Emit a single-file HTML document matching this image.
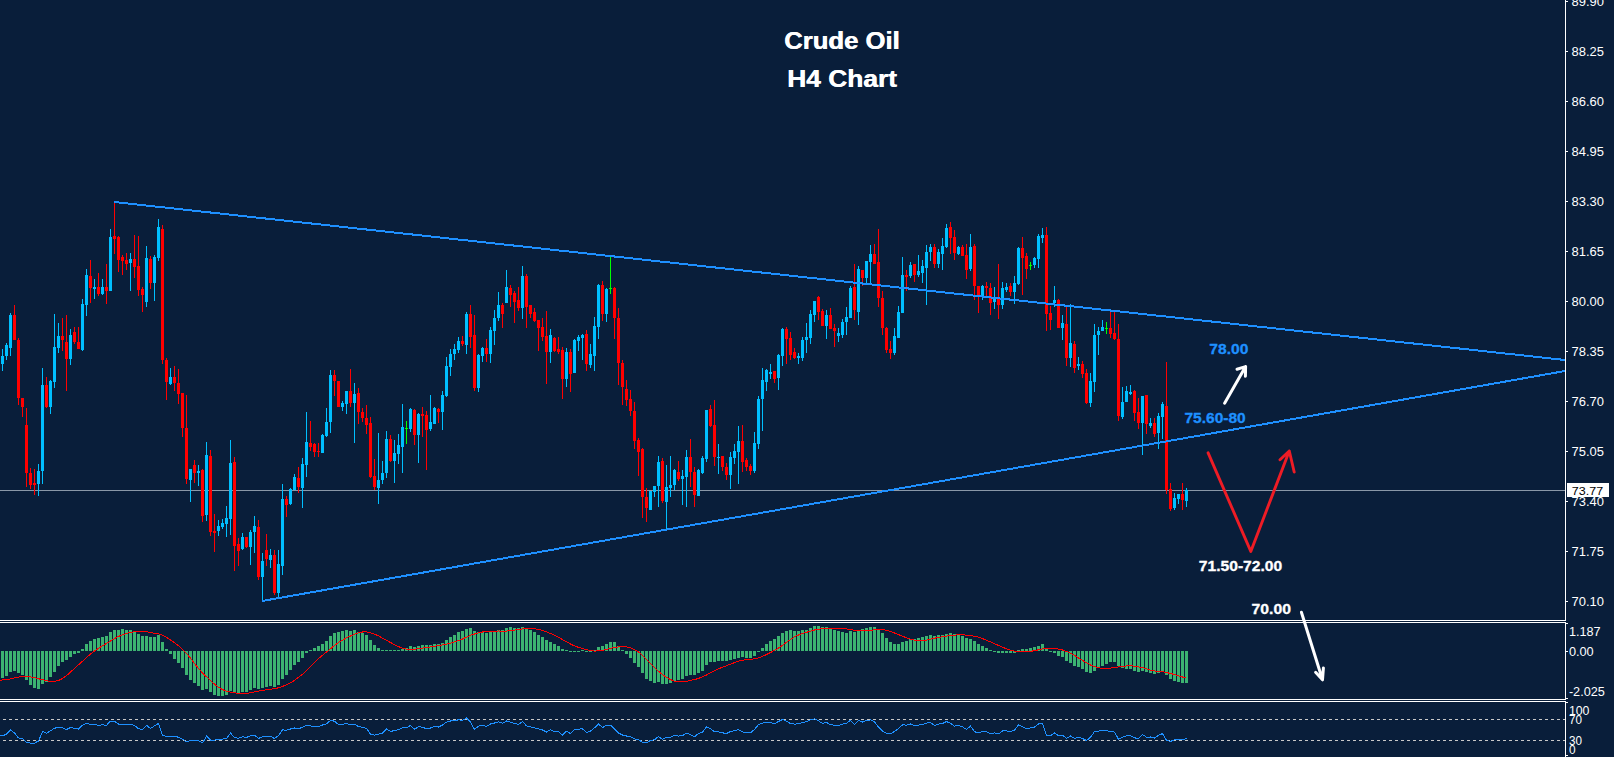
<!DOCTYPE html>
<html><head><meta charset="utf-8"><title>Crude Oil H4 Chart</title>
<style>html,body{margin:0;padding:0;background:#091e3a;}body{width:1614px;height:757px;overflow:hidden;position:relative;font-family:"Liberation Sans",sans-serif;}</style>
</head><body>
<svg width="1614" height="757" viewBox="0 0 1614 757" style="position:absolute;left:0;top:0">
<rect width="1614" height="757" fill="#091e3a"/>
<rect x="0" y="490" width="1565" height="1" fill="#8a98a8" shape-rendering="crispEdges"/>
<path d="M14 305h1v35h-1z M13 315h3v25h-3z M18 338h1v67h-1z M17 340h3v58h-3z M22 398h1v19h-1z M21 398h3v9h-3z M26 408h1v79h-1z M25 425h3v48h-3z M30 468h1v21h-1z M29 473h3v12h-3z M34 469h1v26h-1z M33 483h3v2h-3z M46 377h1v31h-1z M45 385h3v22h-3z M62 318h1v33h-1z M61 336h3v4h-3z M66 315h1v76h-1z M65 342h3v17h-3z M74 327h1v17h-1z M73 332h3v10h-3z M78 327h1v22h-1z M77 342h3v7h-3z M90 260h1v43h-1z M89 276h3v12h-3z M98 273h1v23h-1z M97 287h3v7h-3z M106 264h1v40h-1z M105 287h3v4h-3z M114 202h1v52h-1z M113 236h3v3h-3z M118 236h1v36h-1z M117 237h3v23h-3z M122 255h1v20h-1z M121 257h3v4h-3z M126 253h1v17h-1z M125 260h3v4h-3z M134 235h1v43h-1z M133 259h3v8h-3z M138 236h1v60h-1z M137 266h3v24h-3z M142 287h1v25h-1z M141 289h3v6h-3z M150 256h1v33h-1z M149 259h3v24h-3z M162 225h1v139h-1z M161 229h3v131h-3z M166 358h1v42h-1z M165 360h3v22h-3z M174 366h1v25h-1z M173 377h3v6h-3z M178 369h1v35h-1z M177 383h3v11h-3z M182 393h1v44h-1z M181 393h3v35h-3z M186 395h1v89h-1z M185 428h3v51h-3z M194 460h1v23h-1z M193 465h3v8h-3z M202 469h1v53h-1z M201 470h3v46h-3z M210 450h1v86h-1z M209 456h3v76h-3z M214 514h1v38h-1z M213 531h3v2h-3z M234 457h1v114h-1z M233 462h3v84h-3z M238 538h1v28h-1z M237 544h3v7h-3z M246 537h1v11h-1z M245 537h3v10h-3z M258 520h1v60h-1z M257 527h3v50h-3z M266 534h1v32h-1z M265 550h3v9h-3z M274 550h1v45h-1z M273 555h3v38h-3z M286 496h1v21h-1z M285 499h3v6h-3z M298 467h1v26h-1z M297 478h3v9h-3z M310 421h1v30h-1z M309 443h3v4h-3z M314 443h1v14h-1z M313 444h3v8h-3z M318 443h1v14h-1z M317 451h3v1h-3z M334 370h1v26h-1z M333 375h3v6h-3z M338 381h1v26h-1z M337 381h3v26h-3z M350 369h1v38h-1z M349 391h3v12h-3z M358 388h1v36h-1z M357 393h3v19h-3z M362 408h1v14h-1z M361 412h3v6h-3z M366 405h1v29h-1z M365 418h3v7h-3z M370 417h1v61h-1z M369 423h3v54h-3z M374 459h1v31h-1z M373 476h3v11h-3z M390 435h1v27h-1z M389 439h3v22h-3z M414 409h1v36h-1z M413 410h3v25h-3z M422 407h1v30h-1z M421 414h3v2h-3z M426 411h1v59h-1z M425 415h3v15h-3z M438 408h1v15h-1z M437 409h3v3h-3z M462 336h1v10h-1z M461 341h3v3h-3z M470 305h1v43h-1z M469 314h3v23h-3z M474 315h1v76h-1z M473 335h3v53h-3z M486 339h1v23h-1z M485 348h3v6h-3z M502 303h1v25h-1z M501 305h3v9h-3z M510 285h1v22h-1z M509 288h3v7h-3z M514 291h1v32h-1z M513 293h3v9h-3z M518 287h1v24h-1z M517 300h3v8h-3z M526 274h1v54h-1z M525 276h3v31h-3z M530 305h1v13h-1z M529 305h3v9h-3z M534 308h1v14h-1z M533 312h3v9h-3z M538 320h1v31h-1z M537 320h3v8h-3z M542 318h1v23h-1z M541 327h3v10h-3z M546 311h1v73h-1z M545 336h3v16h-3z M554 337h1v15h-1z M553 338h3v13h-3z M558 337h1v17h-1z M557 349h3v3h-3z M562 347h1v52h-1z M561 350h3v29h-3z M570 349h1v43h-1z M569 352h3v22h-3z M586 330h1v41h-1z M585 334h3v30h-3z M602 281h1v40h-1z M601 285h3v29h-3z M614 287h1v52h-1z M613 288h3v30h-3z M618 308h1v77h-1z M617 318h3v45h-3z M622 360h1v45h-1z M621 363h3v24h-3z M626 380h1v26h-1z M625 389h3v11h-3z M630 390h1v26h-1z M629 399h3v12h-3z M634 402h1v47h-1z M633 411h3v30h-3z M638 438h1v38h-1z M637 440h3v12h-3z M642 448h1v70h-1z M641 449h3v48h-3z M646 488h1v34h-1z M645 497h3v11h-3z M662 458h1v45h-1z M661 461h3v40h-3z M678 461h1v20h-1z M677 472h3v7h-3z M690 439h1v48h-1z M689 457h3v15h-3z M694 467h1v40h-1z M693 472h3v23h-3z M710 405h1v22h-1z M709 409h3v17h-3z M714 400h1v66h-1z M713 425h3v32h-3z M722 456h1v15h-1z M721 456h3v11h-3z M726 463h1v17h-1z M725 467h3v8h-3z M742 425h1v47h-1z M741 441h3v21h-3z M746 458h1v13h-1z M745 460h3v7h-3z M750 464h1v11h-1z M749 466h3v5h-3z M774 371h1v12h-1z M773 371h3v8h-3z M786 327h1v37h-1z M785 329h3v10h-3z M790 332h1v28h-1z M789 338h3v17h-3z M794 348h1v11h-1z M793 352h3v6h-3z M818 296h1v24h-1z M817 297h3v15h-3z M822 309h1v17h-1z M821 311h3v15h-3z M830 308h1v21h-1z M829 315h3v14h-3z M834 324h1v23h-1z M833 328h3v3h-3z M854 264h1v56h-1z M853 287h3v23h-3z M862 270h1v16h-1z M861 270h3v8h-3z M874 244h1v20h-1z M873 254h3v10h-3z M878 229h1v78h-1z M877 262h3v36h-3z M882 291h1v44h-1z M881 298h3v30h-3z M886 327h1v26h-1z M885 328h3v22h-3z M890 341h1v18h-1z M889 349h3v4h-3z M906 270h1v21h-1z M905 275h3v2h-3z M914 264h1v18h-1z M913 264h3v11h-3z M934 244h1v24h-1z M933 247h3v17h-3z M950 222h1v32h-1z M949 227h3v11h-3z M954 230h1v30h-1z M953 237h3v16h-3z M962 245h1v11h-1z M961 247h3v9h-3z M966 244h1v35h-1z M965 255h3v15h-3z M974 244h1v56h-1z M973 246h3v40h-3z M978 286h1v27h-1z M977 286h3v10h-3z M986 282h1v14h-1z M985 286h3v2h-3z M990 283h1v32h-1z M989 288h3v15h-3z M998 264h1v55h-1z M997 299h3v6h-3z M1010 283h1v13h-1z M1009 286h3v6h-3z M1022 237h1v58h-1z M1021 248h3v10h-3z M1026 253h1v26h-1z M1025 256h3v13h-3z M1046 227h1v104h-1z M1045 235h3v79h-3z M1050 306h1v24h-1z M1049 313h3v7h-3z M1058 299h1v29h-1z M1057 300h3v28h-3z M1066 307h1v59h-1z M1065 324h3v34h-3z M1074 341h1v32h-1z M1073 344h3v24h-3z M1082 361h1v17h-1z M1081 364h3v10h-3z M1086 369h1v35h-1z M1085 373h3v30h-3z M1110 312h1v26h-1z M1109 328h3v6h-3z M1114 312h1v28h-1z M1113 333h3v6h-3z M1118 324h1v97h-1z M1117 339h3v77h-3z M1134 390h1v31h-1z M1133 391h3v22h-3z M1138 398h1v31h-1z M1137 412h3v11h-3z M1146 395h1v39h-1z M1145 395h3v29h-3z M1154 418h1v19h-1z M1153 423h3v11h-3z M1166 362h1v132h-1z M1165 406h3v84h-3z M1170 483h1v28h-1z M1169 489h3v20h-3z M1182 483h1v27h-1z M1181 494h3v6h-3z" fill="#ff0000" shape-rendering="crispEdges"/>
<path d="M2 349h1v22h-1z M1 356h3v8h-3z M6 343h1v17h-1z M5 345h3v11h-3z M10 313h1v43h-1z M9 315h3v33h-3z M38 464h1v32h-1z M37 471h3v13h-3z M42 368h1v116h-1z M41 385h3v86h-3z M50 380h1v34h-1z M49 381h3v26h-3z M54 314h1v74h-1z M53 347h3v35h-3z M58 323h1v30h-1z M57 336h3v12h-3z M70 329h1v36h-1z M69 335h3v24h-3z M82 299h1v52h-1z M81 304h3v46h-3z M86 269h1v47h-1z M85 275h3v30h-3z M94 279h1v20h-1z M93 287h3v2h-3z M102 279h1v16h-1z M101 287h3v7h-3z M110 229h1v62h-1z M109 237h3v54h-3z M130 253h1v38h-1z M129 259h3v4h-3z M146 246h1v61h-1z M145 258h3v44h-3z M154 255h1v46h-1z M153 257h3v26h-3z M158 219h1v42h-1z M157 227h3v31h-3z M170 368h1v17h-1z M169 377h3v7h-3z M190 469h1v33h-1z M189 469h3v11h-3z M198 465h1v21h-1z M197 471h3v2h-3z M206 442h1v79h-1z M205 455h3v60h-3z M218 520h1v16h-1z M217 526h3v5h-3z M222 519h1v10h-1z M221 523h3v4h-3z M226 506h1v31h-1z M225 518h3v6h-3z M230 440h1v95h-1z M229 463h3v56h-3z M242 533h1v17h-1z M241 537h3v12h-3z M250 530h1v35h-1z M249 532h3v15h-3z M254 516h1v37h-1z M253 526h3v6h-3z M262 553h1v48h-1z M261 561h3v16h-3z M270 549h1v19h-1z M269 555h3v5h-3z M278 550h1v48h-1z M277 564h3v29h-3z M282 484h1v91h-1z M281 499h3v67h-3z M290 488h1v17h-1z M289 489h3v15h-3z M294 474h1v16h-1z M293 477h3v13h-3z M302 458h1v50h-1z M301 464h3v24h-3z M306 412h1v65h-1z M305 442h3v23h-3z M322 434h1v19h-1z M321 435h3v18h-3z M326 408h1v29h-1z M325 422h3v14h-3z M330 370h1v63h-1z M329 375h3v47h-3z M342 401h1v10h-1z M341 403h3v4h-3z M346 391h1v23h-1z M345 391h3v13h-3z M354 383h1v60h-1z M353 394h3v9h-3z M378 433h1v71h-1z M377 480h3v8h-3z M382 461h1v23h-1z M381 473h3v7h-3z M386 431h1v47h-1z M385 439h3v34h-3z M394 440h1v43h-1z M393 453h3v8h-3z M398 434h1v30h-1z M397 445h3v9h-3z M402 404h1v69h-1z M401 427h3v20h-3z M410 408h1v24h-1z M409 409h3v20h-3z M418 413h1v50h-1z M417 414h3v21h-3z M430 395h1v36h-1z M429 422h3v7h-3z M434 407h1v17h-1z M433 408h3v16h-3z M442 391h1v39h-1z M441 395h3v17h-3z M446 357h1v40h-1z M445 366h3v30h-3z M450 349h1v27h-1z M449 354h3v13h-3z M454 344h1v16h-1z M453 349h3v5h-3z M458 337h1v16h-1z M457 341h3v9h-3z M466 312h1v42h-1z M465 314h3v31h-3z M478 354h1v38h-1z M477 355h3v33h-3z M482 347h1v15h-1z M481 348h3v8h-3z M490 327h1v36h-1z M489 330h3v24h-3z M494 310h1v35h-1z M493 318h3v13h-3z M498 292h1v29h-1z M497 305h3v13h-3z M506 270h1v33h-1z M505 287h3v16h-3z M522 266h1v53h-1z M521 276h3v32h-3z M550 329h1v34h-1z M549 335h3v17h-3z M566 348h1v39h-1z M565 352h3v27h-3z M574 339h1v34h-1z M573 340h3v33h-3z M578 335h1v16h-1z M577 337h3v4h-3z M582 334h1v26h-1z M581 335h3v3h-3z M590 344h1v24h-1z M589 354h3v11h-3z M594 317h1v54h-1z M593 326h3v30h-3z M598 284h1v55h-1z M597 285h3v42h-3z M606 288h1v34h-1z M605 289h3v25h-3z M650 491h1v19h-1z M649 491h3v19h-3z M654 486h1v11h-1z M653 486h3v6h-3z M658 456h1v51h-1z M657 462h3v24h-3z M666 465h1v65h-1z M665 487h3v15h-3z M670 456h1v41h-1z M669 485h3v3h-3z M674 469h1v21h-1z M673 470h3v15h-3z M682 470h1v35h-1z M681 476h3v3h-3z M686 450h1v57h-1z M685 457h3v20h-3z M698 469h1v27h-1z M697 470h3v26h-3z M702 456h1v18h-1z M701 458h3v15h-3z M706 410h1v52h-1z M705 410h3v49h-3z M718 444h1v30h-1z M717 457h3v1h-3z M730 452h1v37h-1z M729 457h3v18h-3z M734 444h1v20h-1z M733 451h3v7h-3z M738 426h1v58h-1z M737 441h3v11h-3z M754 432h1v41h-1z M753 443h3v28h-3z M758 396h1v53h-1z M757 399h3v45h-3z M762 368h1v63h-1z M761 380h3v19h-3z M766 369h1v22h-1z M765 370h3v12h-3z M770 364h1v15h-1z M769 372h3v2h-3z M778 354h1v36h-1z M777 355h3v23h-3z M782 328h1v38h-1z M781 329h3v27h-3z M798 353h1v11h-1z M797 356h3v2h-3z M802 337h1v24h-1z M801 340h3v18h-3z M806 323h1v30h-1z M805 337h3v3h-3z M810 310h1v34h-1z M809 314h3v24h-3z M814 301h1v21h-1z M813 301h3v14h-3z M826 310h1v29h-1z M825 315h3v11h-3z M838 328h1v14h-1z M837 333h3v3h-3z M842 319h1v19h-1z M841 322h3v13h-3z M846 307h1v28h-1z M845 317h3v5h-3z M850 286h1v32h-1z M849 288h3v30h-3z M858 266h1v59h-1z M857 269h3v43h-3z M866 261h1v22h-1z M865 261h3v17h-3z M870 245h1v38h-1z M869 254h3v8h-3z M894 328h1v27h-1z M893 336h3v17h-3z M898 306h1v32h-1z M897 312h3v26h-3z M902 257h1v56h-1z M901 275h3v38h-3z M910 262h1v16h-1z M909 265h3v11h-3z M918 255h1v22h-1z M917 271h3v4h-3z M922 260h1v23h-1z M921 266h3v7h-3z M926 245h1v60h-1z M925 252h3v16h-3z M930 244h1v17h-1z M929 247h3v5h-3z M938 249h1v19h-1z M937 252h3v12h-3z M942 238h1v32h-1z M941 246h3v8h-3z M946 224h1v24h-1z M945 228h3v19h-3z M958 246h1v9h-1z M957 247h3v7h-3z M970 234h1v37h-1z M969 247h3v22h-3z M982 285h1v15h-1z M981 286h3v10h-3z M994 287h1v22h-1z M993 298h3v4h-3z M1002 282h1v27h-1z M1001 288h3v17h-3z M1006 283h1v9h-1z M1005 287h3v3h-3z M1014 276h1v28h-1z M1013 283h3v9h-3z M1018 247h1v38h-1z M1017 248h3v36h-3z M1034 257h1v11h-1z M1033 258h3v7h-3z M1038 234h1v34h-1z M1037 236h3v23h-3z M1042 228h1v15h-1z M1041 235h3v3h-3z M1054 286h1v21h-1z M1053 300h3v3h-3z M1062 315h1v25h-1z M1061 323h3v5h-3z M1070 304h1v63h-1z M1069 343h3v15h-3z M1078 357h1v13h-1z M1077 364h3v2h-3z M1090 373h1v34h-1z M1089 381h3v22h-3z M1094 324h1v68h-1z M1093 335h3v47h-3z M1098 327h1v28h-1z M1097 331h3v4h-3z M1102 320h1v11h-1z M1101 327h3v4h-3z M1122 387h1v32h-1z M1121 402h3v15h-3z M1126 386h1v16h-1z M1125 391h3v11h-3z M1130 385h1v10h-1z M1129 392h3v2h-3z M1142 396h1v59h-1z M1141 396h3v27h-3z M1150 418h1v10h-1z M1149 423h3v3h-3z M1158 413h1v36h-1z M1157 416h3v17h-3z M1162 402h1v37h-1z M1161 404h3v13h-3z M1174 493h1v17h-1z M1173 498h3v10h-3z M1178 494h1v10h-1z M1177 494h3v5h-3z M1186 488h1v19h-1z M1185 490h3v11h-3z" fill="#00bfff" shape-rendering="crispEdges"/>
<path d="M406 421h1v23h-1z M405 428h3v1h-3z M610 257h1v37h-1z M609 288h3v1h-3z M1030 262h1v8h-1z M1029 265h3v1h-3z M1106 322h1v12h-1z M1105 328h3v1h-3z" fill="#00ff00" shape-rendering="crispEdges"/>
<g stroke="#1e90ff" stroke-width="2" fill="none" shape-rendering="crispEdges">
<line x1="114" y1="202" x2="1565" y2="360"/>
<line x1="262" y1="601" x2="1565" y2="371"/>
</g>
<path d="M1 651h3v27h-3z M5 651h3v25h-3z M9 651h3v21h-3z M13 651h3v20h-3z M17 651h3v22h-3z M21 651h3v24h-3z M25 651h3v29h-3z M29 651h3v34h-3z M33 651h3v37h-3z M37 651h3v38h-3z M41 651h3v33h-3z M45 651h3v31h-3z M49 651h3v26h-3z M53 651h3v21h-3z M57 651h3v15h-3z M61 651h3v11h-3z M65 651h3v9h-3z M69 651h3v6h-3z M73 651h3v3h-3z M77 651h3v2h-3z M81 649h3v2h-3z M85 644h3v7h-3z M89 641h3v10h-3z M93 639h3v12h-3z M97 638h3v13h-3z M101 637h3v14h-3z M105 636h3v15h-3z M109 632h3v19h-3z M113 630h3v21h-3z M117 630h3v21h-3z M121 629h3v22h-3z M125 630h3v21h-3z M129 630h3v21h-3z M133 631h3v20h-3z M137 634h3v17h-3z M141 636h3v15h-3z M145 636h3v15h-3z M149 637h3v14h-3z M153 637h3v14h-3z M157 635h3v16h-3z M161 642h3v9h-3z M165 649h3v2h-3z M169 651h3v3h-3z M173 651h3v8h-3z M177 651h3v12h-3z M181 651h3v17h-3z M185 651h3v24h-3z M189 651h3v29h-3z M193 651h3v32h-3z M197 651h3v35h-3z M201 651h3v39h-3z M205 651h3v38h-3z M209 651h3v41h-3z M213 651h3v44h-3z M217 651h3v45h-3z M221 651h3v45h-3z M225 651h3v44h-3z M229 651h3v40h-3z M233 651h3v41h-3z M237 651h3v42h-3z M241 651h3v41h-3z M245 651h3v41h-3z M249 651h3v39h-3z M253 651h3v37h-3z M257 651h3v38h-3z M261 651h3v37h-3z M265 651h3v36h-3z M269 651h3v35h-3z M273 651h3v36h-3z M277 651h3v34h-3z M281 651h3v28h-3z M285 651h3v24h-3z M289 651h3v19h-3z M293 651h3v14h-3z M297 651h3v11h-3z M301 651h3v7h-3z M305 651h3v2h-3z M309 650h3v1h-3z M313 648h3v3h-3z M317 646h3v5h-3z M321 644h3v7h-3z M325 641h3v10h-3z M329 636h3v15h-3z M333 633h3v18h-3z M337 632h3v19h-3z M341 631h3v20h-3z M345 630h3v21h-3z M349 631h3v20h-3z M353 630h3v21h-3z M357 632h3v19h-3z M361 633h3v18h-3z M365 635h3v16h-3z M369 640h3v11h-3z M373 645h3v6h-3z M377 648h3v3h-3z M381 650h3v1h-3z M385 650h3v1h-3z M389 650h3v1h-3z M393 650h3v1h-3z M397 650h3v1h-3z M401 649h3v2h-3z M405 648h3v3h-3z M409 646h3v5h-3z M413 647h3v4h-3z M417 646h3v5h-3z M421 645h3v6h-3z M425 645h3v6h-3z M429 645h3v6h-3z M433 644h3v7h-3z M437 644h3v7h-3z M441 643h3v8h-3z M445 640h3v11h-3z M449 637h3v14h-3z M453 635h3v16h-3z M457 632h3v19h-3z M461 631h3v20h-3z M465 629h3v22h-3z M469 628h3v23h-3z M473 631h3v20h-3z M477 632h3v19h-3z M481 632h3v19h-3z M485 633h3v18h-3z M489 632h3v19h-3z M493 631h3v20h-3z M497 630h3v21h-3z M501 630h3v21h-3z M505 628h3v23h-3z M509 627h3v24h-3z M513 628h3v23h-3z M517 628h3v23h-3z M521 627h3v24h-3z M525 629h3v22h-3z M529 630h3v21h-3z M533 632h3v19h-3z M537 635h3v16h-3z M541 637h3v14h-3z M545 640h3v11h-3z M549 642h3v9h-3z M553 644h3v7h-3z M557 646h3v5h-3z M561 649h3v2h-3z M565 650h3v1h-3z M569 651h3v1h-3z M573 651h3v1h-3z M577 651h3v1h-3z M581 650h3v1h-3z M585 651h3v1h-3z M589 651h3v1h-3z M593 650h3v1h-3z M597 647h3v4h-3z M601 646h3v5h-3z M605 644h3v7h-3z M609 642h3v9h-3z M613 642h3v9h-3z M617 646h3v5h-3z M621 650h3v1h-3z M625 651h3v3h-3z M629 651h3v7h-3z M633 651h3v12h-3z M637 651h3v16h-3z M641 651h3v22h-3z M645 651h3v28h-3z M649 651h3v30h-3z M653 651h3v32h-3z M657 651h3v31h-3z M661 651h3v33h-3z M665 651h3v33h-3z M669 651h3v32h-3z M673 651h3v30h-3z M677 651h3v29h-3z M681 651h3v28h-3z M685 651h3v25h-3z M689 651h3v24h-3z M693 651h3v24h-3z M697 651h3v22h-3z M701 651h3v20h-3z M705 651h3v14h-3z M709 651h3v11h-3z M713 651h3v11h-3z M717 651h3v10h-3z M721 651h3v10h-3z M725 651h3v10h-3z M729 651h3v9h-3z M733 651h3v8h-3z M737 651h3v7h-3z M741 651h3v6h-3z M745 651h3v7h-3z M749 651h3v7h-3z M753 651h3v5h-3z M757 651h3v1h-3z M761 648h3v3h-3z M765 644h3v7h-3z M769 641h3v10h-3z M773 639h3v12h-3z M777 636h3v15h-3z M781 633h3v18h-3z M785 631h3v20h-3z M789 630h3v21h-3z M793 631h3v20h-3z M797 631h3v20h-3z M801 630h3v21h-3z M805 630h3v21h-3z M809 628h3v23h-3z M813 626h3v25h-3z M817 626h3v25h-3z M821 627h3v24h-3z M825 627h3v24h-3z M829 628h3v23h-3z M833 630h3v21h-3z M837 631h3v20h-3z M841 632h3v19h-3z M845 633h3v18h-3z M849 631h3v20h-3z M853 632h3v19h-3z M857 630h3v21h-3z M861 629h3v22h-3z M865 628h3v23h-3z M869 627h3v24h-3z M873 627h3v24h-3z M877 629h3v22h-3z M881 633h3v18h-3z M885 638h3v13h-3z M889 642h3v9h-3z M893 644h3v7h-3z M897 644h3v7h-3z M901 642h3v9h-3z M905 641h3v10h-3z M909 639h3v12h-3z M913 639h3v12h-3z M917 638h3v13h-3z M921 637h3v14h-3z M925 636h3v15h-3z M929 635h3v16h-3z M933 636h3v15h-3z M937 635h3v16h-3z M941 635h3v16h-3z M945 634h3v17h-3z M949 633h3v18h-3z M953 634h3v17h-3z M957 635h3v16h-3z M961 636h3v15h-3z M965 638h3v13h-3z M969 639h3v12h-3z M973 641h3v10h-3z M977 644h3v7h-3z M981 646h3v5h-3z M985 648h3v3h-3z M989 650h3v1h-3z M993 651h3v1h-3z M997 651h3v2h-3z M1001 651h3v2h-3z M1005 651h3v2h-3z M1009 651h3v2h-3z M1013 651h3v2h-3z M1017 650h3v1h-3z M1021 649h3v2h-3z M1025 649h3v2h-3z M1029 648h3v3h-3z M1033 647h3v4h-3z M1037 646h3v5h-3z M1041 644h3v7h-3z M1045 648h3v3h-3z M1049 651h3v1h-3z M1053 651h3v2h-3z M1057 651h3v5h-3z M1061 651h3v6h-3z M1065 651h3v10h-3z M1069 651h3v12h-3z M1073 651h3v15h-3z M1077 651h3v16h-3z M1081 651h3v18h-3z M1085 651h3v21h-3z M1089 651h3v22h-3z M1093 651h3v20h-3z M1097 651h3v17h-3z M1101 651h3v15h-3z M1105 651h3v13h-3z M1109 651h3v11h-3z M1113 651h3v11h-3z M1117 651h3v15h-3z M1121 651h3v17h-3z M1125 651h3v18h-3z M1129 651h3v18h-3z M1133 651h3v20h-3z M1137 651h3v21h-3z M1141 651h3v20h-3z M1145 651h3v21h-3z M1149 651h3v22h-3z M1153 651h3v23h-3z M1157 651h3v22h-3z M1161 651h3v20h-3z M1165 651h3v24h-3z M1169 651h3v28h-3z M1173 651h3v30h-3z M1177 651h3v31h-3z M1181 651h3v32h-3z M1185 651h3v32h-3z" fill="#3cb371" shape-rendering="crispEdges"/>
<polyline points="-1.5,680.3 2.5,680.0 6.5,679.7 10.5,678.9 14.5,677.8 18.5,677.1 22.5,676.5 26.5,676.5 30.5,676.9 34.5,677.5 38.5,678.8 42.5,679.7 46.5,680.7 50.5,681.5 54.5,681.4 58.5,680.5 62.5,678.5 66.5,675.7 70.5,672.2 74.5,668.3 78.5,664.8 82.5,661.2 86.5,657.5 90.5,654.1 94.5,651.1 98.5,648.4 102.5,645.8 106.5,643.5 110.5,641.1 114.5,638.5 118.5,636.4 122.5,634.7 126.5,633.4 130.5,632.5 134.5,631.7 138.5,631.4 142.5,631.3 146.5,631.7 150.5,632.5 154.5,633.3 158.5,633.9 162.5,635.3 166.5,637.4 170.5,639.9 174.5,642.7 178.5,645.7 182.5,649.3 186.5,653.5 190.5,658.2 194.5,663.6 198.5,668.4 202.5,673.0 206.5,676.8 210.5,680.6 214.5,684.1 218.5,687.2 222.5,689.6 226.5,691.3 230.5,692.2 234.5,692.9 238.5,693.2 242.5,693.5 246.5,693.4 250.5,692.8 254.5,691.9 258.5,691.1 262.5,690.3 266.5,689.9 270.5,689.2 274.5,688.6 278.5,687.8 282.5,686.4 286.5,684.8 290.5,682.9 294.5,680.3 298.5,677.4 302.5,674.2 306.5,670.6 310.5,666.5 314.5,662.4 318.5,658.7 322.5,655.2 326.5,652.0 330.5,648.7 334.5,645.4 338.5,642.5 342.5,640.1 346.5,637.9 350.5,636.0 354.5,634.2 358.5,632.9 362.5,632.0 366.5,631.9 370.5,632.7 374.5,634.1 378.5,635.9 382.5,638.1 386.5,640.2 390.5,642.5 394.5,644.6 398.5,646.6 402.5,648.2 406.5,649.1 410.5,649.3 414.5,649.2 418.5,648.6 422.5,648.1 426.5,647.5 430.5,646.9 434.5,646.2 438.5,645.5 442.5,644.9 446.5,644.2 450.5,643.1 454.5,641.9 458.5,640.5 462.5,639.0 466.5,637.1 470.5,635.3 474.5,634.0 478.5,632.8 482.5,632.0 486.5,631.5 490.5,631.3 494.5,631.1 498.5,631.0 502.5,631.1 506.5,631.1 510.5,630.6 514.5,630.1 518.5,629.7 522.5,629.0 526.5,628.6 530.5,628.5 534.5,628.8 538.5,629.4 542.5,630.4 546.5,631.9 550.5,633.5 554.5,635.2 558.5,637.3 562.5,639.6 566.5,641.8 570.5,644.0 574.5,645.9 578.5,647.4 582.5,648.5 586.5,649.6 590.5,650.5 594.5,651.1 598.5,650.8 602.5,650.4 606.5,649.4 610.5,648.3 614.5,647.4 618.5,646.9 622.5,646.7 626.5,646.9 630.5,647.7 634.5,649.5 638.5,651.9 642.5,655.2 646.5,659.3 650.5,663.6 654.5,667.7 658.5,671.2 662.5,674.5 666.5,677.3 670.5,679.6 674.5,681.1 678.5,681.8 682.5,681.8 686.5,681.3 690.5,680.4 694.5,679.6 698.5,678.4 702.5,676.9 706.5,675.0 710.5,672.9 714.5,670.8 718.5,668.8 722.5,667.2 726.5,665.7 730.5,664.1 734.5,662.6 738.5,661.1 742.5,660.2 746.5,659.7 750.5,659.3 754.5,658.8 758.5,657.9 762.5,656.4 766.5,654.5 770.5,652.5 774.5,650.4 778.5,648.1 782.5,645.3 786.5,642.3 790.5,639.4 794.5,636.9 798.5,635.0 802.5,633.5 806.5,632.3 810.5,631.1 814.5,630.0 818.5,629.2 822.5,628.8 826.5,628.4 830.5,628.2 834.5,628.1 838.5,628.2 842.5,628.5 846.5,629.0 850.5,629.5 854.5,630.2 858.5,630.5 862.5,630.8 866.5,630.7 870.5,630.4 874.5,629.8 878.5,629.5 882.5,629.6 886.5,630.3 890.5,631.4 894.5,633.0 898.5,634.6 902.5,636.2 906.5,637.8 910.5,639.2 914.5,640.2 918.5,640.8 922.5,640.7 926.5,640.1 930.5,639.1 934.5,638.2 938.5,637.4 942.5,636.7 946.5,636.1 950.5,635.5 954.5,635.1 958.5,634.8 962.5,634.8 966.5,635.2 970.5,635.5 974.5,636.2 978.5,637.2 982.5,638.6 986.5,640.2 990.5,641.9 994.5,643.7 998.5,645.5 1002.5,647.2 1006.5,648.8 1010.5,650.1 1014.5,651.1 1018.5,651.5 1022.5,651.7 1026.5,651.6 1030.5,651.3 1034.5,650.7 1038.5,649.8 1042.5,648.9 1046.5,648.3 1050.5,648.1 1054.5,648.3 1058.5,649.1 1062.5,650.0 1066.5,651.5 1070.5,653.2 1074.5,655.4 1078.5,658.0 1082.5,660.4 1086.5,662.7 1090.5,665.0 1094.5,666.6 1098.5,667.8 1102.5,668.3 1106.5,668.4 1110.5,668.1 1114.5,667.4 1118.5,667.0 1122.5,666.5 1126.5,666.0 1130.5,665.9 1134.5,666.1 1138.5,666.8 1142.5,667.7 1146.5,668.8 1150.5,670.1 1154.5,671.0 1158.5,671.5 1162.5,671.8 1166.5,672.5 1170.5,673.5 1174.5,674.5 1178.5,675.8 1182.5,677.0 1186.5,678.1" fill="none" stroke="#ff0000" stroke-width="1" shape-rendering="crispEdges"/>
<g stroke="#c8c8c8" stroke-width="1" stroke-dasharray="3,3" shape-rendering="crispEdges"><line x1="3" y1="719.5" x2="1565" y2="719.5"/><line x1="3" y1="740.5" x2="1565" y2="740.5"/></g>
<polyline points="-1.5,735.9 2.5,735.9 6.5,734.2 10.5,730.1 14.5,732.9 18.5,738.0 22.5,738.6 26.5,742.5 30.5,743.1 34.5,743.1 38.5,741.0 42.5,731.5 46.5,733.2 50.5,730.9 54.5,728.2 58.5,727.4 62.5,727.8 66.5,729.5 70.5,727.5 74.5,728.2 78.5,729.0 82.5,725.2 86.5,723.2 90.5,724.6 94.5,724.5 98.5,725.4 102.5,724.8 106.5,725.3 110.5,721.1 114.5,721.3 118.5,724.1 122.5,724.3 126.5,724.7 130.5,724.2 134.5,725.4 138.5,728.7 142.5,729.4 146.5,725.2 150.5,728.5 154.5,725.9 158.5,723.3 162.5,735.3 166.5,736.5 170.5,736.1 174.5,736.4 178.5,737.2 182.5,739.2 186.5,741.8 190.5,740.7 194.5,740.8 198.5,740.6 202.5,742.9 206.5,736.2 210.5,740.1 214.5,740.1 218.5,739.4 222.5,739.1 226.5,738.6 230.5,733.0 234.5,737.9 238.5,738.1 242.5,736.8 246.5,737.4 250.5,735.9 254.5,735.3 258.5,738.4 262.5,736.8 266.5,736.6 270.5,736.2 274.5,738.6 278.5,735.5 282.5,729.8 286.5,730.3 290.5,729.0 294.5,728.0 298.5,728.9 302.5,727.1 306.5,725.4 310.5,726.0 314.5,726.4 318.5,726.5 322.5,725.0 326.5,723.9 330.5,720.4 334.5,721.2 338.5,724.6 342.5,724.3 346.5,723.3 350.5,724.9 354.5,724.1 358.5,726.6 362.5,727.4 366.5,728.4 370.5,734.2 374.5,735.1 378.5,734.2 382.5,733.2 386.5,729.0 390.5,731.5 394.5,730.5 398.5,729.6 402.5,727.6 406.5,727.6 410.5,725.5 414.5,729.1 418.5,726.9 422.5,727.1 426.5,729.0 430.5,728.0 434.5,726.3 438.5,727.0 442.5,725.0 446.5,722.1 450.5,721.0 454.5,720.6 458.5,719.8 462.5,720.5 466.5,718.0 470.5,722.2 474.5,729.4 478.5,726.1 482.5,725.5 486.5,726.2 490.5,724.0 494.5,723.0 498.5,721.9 502.5,723.3 506.5,721.0 510.5,722.2 514.5,723.3 518.5,724.4 522.5,721.4 526.5,725.9 530.5,726.9 534.5,727.8 538.5,728.8 542.5,730.0 546.5,732.0 550.5,729.7 554.5,731.6 558.5,731.8 562.5,735.1 566.5,731.1 570.5,733.7 574.5,729.5 578.5,729.1 582.5,728.9 586.5,732.4 590.5,731.1 594.5,727.8 598.5,724.0 602.5,727.5 606.5,725.3 610.5,725.2 614.5,728.8 618.5,733.1 622.5,735.0 626.5,736.0 630.5,736.8 634.5,738.9 638.5,739.6 642.5,742.2 646.5,742.7 650.5,740.4 654.5,739.7 658.5,736.6 662.5,739.3 666.5,737.5 670.5,737.3 674.5,735.4 678.5,736.1 682.5,735.7 686.5,733.2 690.5,734.7 694.5,736.8 698.5,733.5 702.5,732.0 706.5,727.0 710.5,728.8 714.5,731.8 718.5,731.8 722.5,732.8 726.5,733.6 730.5,731.4 734.5,730.7 738.5,729.5 742.5,731.9 746.5,732.5 750.5,733.0 754.5,729.3 758.5,724.7 762.5,723.1 766.5,722.3 770.5,722.6 774.5,723.7 778.5,721.5 782.5,719.5 786.5,721.1 790.5,723.6 794.5,724.1 798.5,723.9 802.5,722.2 806.5,721.9 810.5,719.8 814.5,718.8 818.5,720.9 822.5,723.5 826.5,722.3 830.5,724.8 834.5,725.2 838.5,725.5 842.5,724.1 846.5,723.5 850.5,720.2 854.5,724.4 858.5,720.4 862.5,722.0 866.5,720.5 870.5,719.9 874.5,721.8 878.5,727.2 882.5,731.1 886.5,733.4 890.5,733.8 894.5,731.5 898.5,728.6 902.5,724.9 906.5,725.1 910.5,724.0 914.5,725.5 918.5,725.1 922.5,724.5 926.5,723.1 930.5,722.6 934.5,725.5 938.5,724.1 942.5,723.5 946.5,721.5 950.5,723.4 954.5,726.1 958.5,725.3 962.5,726.9 966.5,729.3 970.5,726.1 974.5,731.7 978.5,732.9 982.5,731.5 986.5,731.8 990.5,733.7 994.5,732.9 998.5,733.9 1002.5,731.0 1006.5,730.8 1010.5,731.7 1014.5,730.1 1018.5,725.0 1022.5,726.6 1026.5,728.6 1030.5,728.0 1034.5,727.0 1038.5,724.0 1042.5,723.8 1046.5,735.2 1050.5,735.8 1054.5,733.0 1058.5,735.8 1062.5,735.1 1066.5,738.2 1070.5,736.0 1074.5,738.2 1078.5,737.5 1082.5,738.4 1086.5,740.6 1090.5,737.3 1094.5,731.6 1098.5,731.1 1102.5,730.7 1106.5,730.7 1110.5,731.5 1114.5,732.1 1118.5,739.3 1122.5,737.3 1126.5,735.9 1130.5,735.9 1134.5,737.8 1138.5,738.6 1142.5,734.7 1146.5,737.1 1150.5,737.0 1154.5,738.0 1158.5,735.3 1162.5,733.6 1166.5,740.3 1170.5,741.4 1174.5,739.9 1178.5,739.4 1182.5,739.8 1186.5,738.3" fill="none" stroke="#1e90ff" stroke-width="1" shape-rendering="crispEdges"/>
<g fill="#ffffff" shape-rendering="crispEdges">
<rect x="0" y="620" width="1566" height="1"/><rect x="0" y="622" width="1566" height="1"/>
<rect x="0" y="699" width="1566" height="1"/><rect x="0" y="701" width="1566" height="1"/>
<rect x="1565" y="0" width="1" height="621"/><rect x="1565" y="622" width="1" height="78"/><rect x="1565" y="701" width="1" height="56"/>
<rect x="1566" y="1" width="2" height="1"/>
<rect x="1566" y="51" width="2" height="1"/>
<rect x="1566" y="101" width="2" height="1"/>
<rect x="1566" y="151" width="2" height="1"/>
<rect x="1566" y="201" width="2" height="1"/>
<rect x="1566" y="251" width="2" height="1"/>
<rect x="1566" y="301" width="2" height="1"/>
<rect x="1566" y="351" width="2" height="1"/>
<rect x="1566" y="401" width="2" height="1"/>
<rect x="1566" y="451" width="2" height="1"/>
<rect x="1566" y="501" width="2" height="1"/>
<rect x="1566" y="551" width="2" height="1"/>
<rect x="1566" y="601" width="2" height="1"/>
<rect x="1566" y="623" width="2" height="1"/>
<rect x="1566" y="651" width="2" height="1"/>
<rect x="1566" y="698" width="2" height="1"/>
<rect x="1566" y="702" width="2" height="1"/>
<rect x="1566" y="755" width="2" height="1"/>
</g>
<g font-family="Liberation Sans, sans-serif" font-size="12" fill="#ffffff">
<text x="1571.6" y="5.7" textLength="32.4" lengthAdjust="spacingAndGlyphs">89.90</text>
<text x="1571.6" y="55.7" textLength="32.4" lengthAdjust="spacingAndGlyphs">88.25</text>
<text x="1571.6" y="105.7" textLength="32.4" lengthAdjust="spacingAndGlyphs">86.60</text>
<text x="1571.6" y="155.7" textLength="32.4" lengthAdjust="spacingAndGlyphs">84.95</text>
<text x="1571.6" y="205.7" textLength="32.4" lengthAdjust="spacingAndGlyphs">83.30</text>
<text x="1571.6" y="255.7" textLength="32.4" lengthAdjust="spacingAndGlyphs">81.65</text>
<text x="1571.6" y="305.7" textLength="32.4" lengthAdjust="spacingAndGlyphs">80.00</text>
<text x="1571.6" y="355.7" textLength="32.4" lengthAdjust="spacingAndGlyphs">78.35</text>
<text x="1571.6" y="405.7" textLength="32.4" lengthAdjust="spacingAndGlyphs">76.70</text>
<text x="1571.6" y="455.7" textLength="32.4" lengthAdjust="spacingAndGlyphs">75.05</text>
<text x="1571.6" y="506.0" textLength="32.4" lengthAdjust="spacingAndGlyphs">73.40</text>
<text x="1571.6" y="555.7" textLength="32.4" lengthAdjust="spacingAndGlyphs">71.75</text>
<text x="1571.6" y="605.7" textLength="32.4" lengthAdjust="spacingAndGlyphs">70.10</text>
<text x="1568.9" y="636.0" textLength="31.6" lengthAdjust="spacingAndGlyphs">1.187</text>
<text x="1568.9" y="655.8" textLength="24.8" lengthAdjust="spacingAndGlyphs">0.00</text>
<text x="1568.9" y="695.7" textLength="36" lengthAdjust="spacingAndGlyphs">-2.025</text>
<text x="1568.9" y="715.1" textLength="20.6" lengthAdjust="spacingAndGlyphs">100</text>
<text x="1568.9" y="724.2" textLength="13" lengthAdjust="spacingAndGlyphs">70</text>
<text x="1568.9" y="745.1" textLength="13" lengthAdjust="spacingAndGlyphs">30</text>
<text x="1568.9" y="753.5" textLength="6.6" lengthAdjust="spacingAndGlyphs">0</text>
</g>
<rect x="1567" y="483" width="42" height="14" fill="#ffffff" shape-rendering="crispEdges"/>
<text x="1571.8" y="495" font-family="Liberation Sans, sans-serif" font-size="11.6" fill="#000000" textLength="31.3" lengthAdjust="spacingAndGlyphs">73.77</text>
<g font-family="Liberation Sans, sans-serif" font-weight="bold">
<text x="841.7" y="49" font-size="23" fill="#ffffff" text-anchor="middle" textLength="115.6" lengthAdjust="spacingAndGlyphs">Crude Oil</text>
<text x="841.9000000000001" y="87" font-size="23" fill="#ffffff" text-anchor="middle" textLength="109.8" lengthAdjust="spacingAndGlyphs">H4 Chart</text>
<text x="842.3" y="49" font-size="23" fill="#ffffff" text-anchor="middle" textLength="115.6" lengthAdjust="spacingAndGlyphs">Crude Oil</text>
<text x="842.5" y="87" font-size="23" fill="#ffffff" text-anchor="middle" textLength="109.8" lengthAdjust="spacingAndGlyphs">H4 Chart</text>
<text x="1209.3" y="353.7" font-size="14.4" fill="#1e90ff" stroke="#1e90ff" stroke-width="0.3" textLength="39" lengthAdjust="spacingAndGlyphs">78.00</text>
<text x="1184.5" y="423.2" font-size="14.4" fill="#1e90ff" stroke="#1e90ff" stroke-width="0.3" textLength="61.2" lengthAdjust="spacingAndGlyphs">75.60-80</text>
<text x="1198.8" y="570.6" font-size="14.4" fill="#ffffff" stroke="#ffffff" stroke-width="0.3" textLength="83.4" lengthAdjust="spacingAndGlyphs">71.50-72.00</text>
<text x="1251.6" y="613.5" font-size="14.4" fill="#ffffff" stroke="#ffffff" stroke-width="0.3" textLength="39.4" lengthAdjust="spacingAndGlyphs">70.00</text>
</g>
<g fill="none" stroke="#ffffff" stroke-width="3" stroke-linecap="round" stroke-linejoin="round">
<path d="M1224.6 403.2L1245.6 366.6M1237 369.3L1245.6 366.6L1245.4 376.2"/>
<path d="M1301.4 612.2L1322.5 679.8M1315.6 672.3L1322.5 679.8L1323.4 668"/>
</g>
<g fill="none" stroke="#ee1c25" stroke-width="2.9" stroke-linecap="round" stroke-linejoin="round">
<path d="M1208.1 452.8L1250.8 551.4L1289.3 451M1280 459.8L1289.3 451L1294.2 472"/>
</g>
</svg>
</body></html>
